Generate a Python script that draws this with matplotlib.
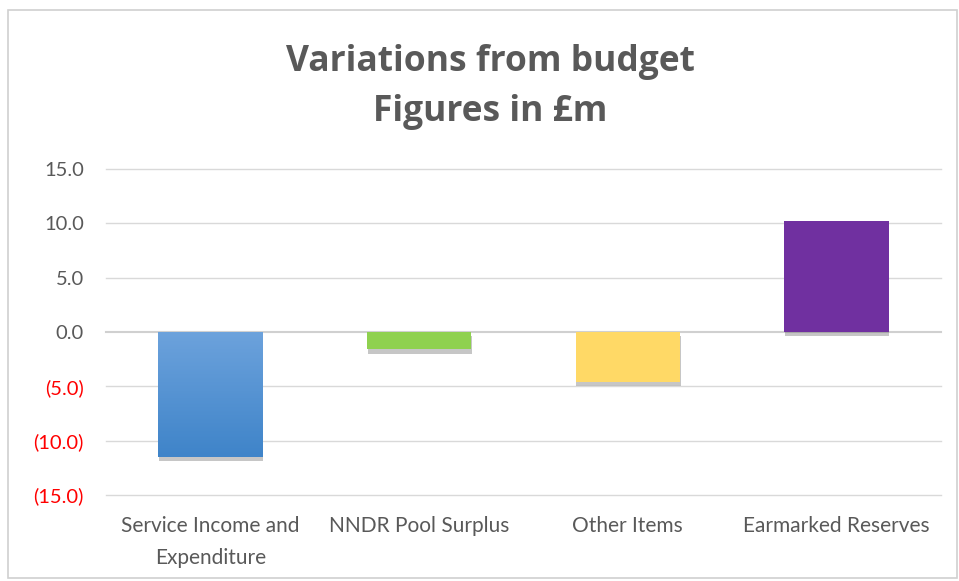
import matplotlib
matplotlib.use("Agg")
import matplotlib.pyplot as plt
import matplotlib.patheffects as pe
import numpy as np
from matplotlib.patches import Rectangle
from matplotlib.colors import LinearSegmentedColormap

categories = ["Service Income and\nExpenditure", "NNDR Pool Surplus", "Other Items", "Earmarked Reserves"]
values = [-11.5, -1.6, -4.6, 10.2]
colors = ["#5b9bd5", "#8fd14f", "#ffd966", "#7030a0"]
yticks = [-15, -10, -5, 0, 5, 10, 15]

fig = plt.figure(figsize=(9.59, 5.81), dpi=100)
fig.patch.set_facecolor("white")
ax = fig.add_axes([0.1105, 0.148, 0.8705, 0.561])

# chart border
fig.add_artist(Rectangle((0.008, 0.005), 0.99, 0.978, transform=fig.transFigure,
                         fill=False, edgecolor="#d0d0d0", lw=1.2))

x = np.arange(len(categories))
shadow = [pe.SimplePatchShadow(offset=(0.5, -3), shadow_rgbFace="#444444", alpha=0.3), pe.Normal()]
bars = ax.bar(x, values, width=0.5, color=colors, zorder=3)
for b in bars:
    b.set_path_effects(shadow)

# gradient on first bar
b0 = bars[0]
grad = np.linspace(0, 1, 100).reshape(-1, 1)
cmap = LinearSegmentedColormap.from_list("g", ["#6ca2dc", "#3f84c9"])
x0 = b0.get_x(); w = b0.get_width()
im = ax.imshow(grad, extent=[x0, x0 + w, values[0], 0], cmap=cmap, aspect="auto", zorder=4, origin="upper")
im.set_clip_path(b0)

ax.set_xlim(-0.5, 3.5)
ax.set_ylim(-15, 15)
ax.set_yticks(yticks)
ax.set_yticklabels([f"({abs(v):.1f})" if v < 0 else f"{v:.1f}" for v in yticks])
for lab, v in zip(ax.get_yticklabels(), yticks):
    lab.set_color("#ff0000" if v < 0 else "#595959")
    lab.set_fontfamily("Lato")
    lab.set_fontsize(14.5)
ax.set_xticks(x)
ax.set_xticklabels(categories, color="#595959", linespacing=1.75)
for lab in ax.get_xticklabels():
    lab.set_fontfamily("Lato")
    lab.set_fontsize(15)
ax.tick_params(axis="both", length=0)
ax.tick_params(axis="y", pad=16)
ax.tick_params(axis="x", pad=15)
for yv in yticks:
    ax.axhline(yv, color="#d0d0d0" if yv == 0 else "#d9d9d9", lw=1.5 if yv == 0 else 1,
               zorder=1, clip_on=False)
for s in ax.spines.values():
    s.set_visible(False)

fig.text(0.511, 0.893, "Variations from budget", ha="center", va="center",
         fontsize=25.5, fontweight="bold", color="#595959", family="Open Sans")
fig.text(0.511, 0.808, "Figures in £m", ha="center", va="center",
         fontsize=25.5, fontweight="bold", color="#595959", family="Open Sans")

fig.savefig("out.png", dpi=100, facecolor="white")
